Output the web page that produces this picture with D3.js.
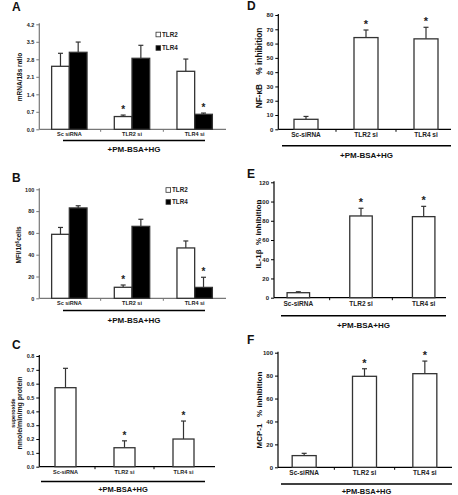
<!DOCTYPE html>
<html><head><meta charset="utf-8">
<script src="https://cdn.jsdelivr.net/npm/d3@7"></script>
<style>body{margin:0;background:#fff}svg{display:block}text{font-family:"Liberation Sans",Arial,sans-serif;font-weight:bold}</style>
</head><body><svg id="c" width="458" height="495"></svg>
<script>
// ---- data ----
const catsAB = ["Sc siRNA", "TLR2 si", "TLR4 si"];
const catsCF = ["Sc-siRNA", "TLR2 si", "TLR4 si"];
const seriesNames = ["TLR2", "TLR4"];
const aTLR2 = [2.52, 0.51, 2.32], aTLR2err = [0.52, 0.06, 0.49];
const aTLR4 = [3.08, 2.84, 0.60], aTLR4err = [0.41, 0.52, 0.05];
const bTLR2 = [58.7, 10.1, 46.2], bTLR2err = [6.3, 2.1, 6.4];
const bTLR4 = [82.9, 66.0, 10.0], bTLR4err = [2.0, 6.5, 9.3];
const cVals = [0.571, 0.137, 0.200], cErr = [0.14, 0.05, 0.13];
const dVals = [7.0, 64.2, 63.3], dErr = [2.0, 5.3, 8.1];
const eVals = [5.2, 85.0, 84.3], eErr = [1.0, 8.0, 10.7];
const fVals = [10.2, 79.4, 81.7], fErr = [2.0, 6.6, 11.0];
const starsA = [[false, true, false], [false, false, true]];
const starsSingle = [false, true, true];
const ticksA = [0, 0.7, 1.4, 2.1, 2.8, 3.5, 4.2];
const ticksB = [0, 20, 40, 60, 80, 100];
const ticksC = [0, 0.1, 0.2, 0.3, 0.4, 0.5, 0.6, 0.7, 0.8];
const ticksD = [0, 10, 20, 30, 40, 50, 60, 70, 80];
const ticksE = [0, 20, 40, 60, 80, 100, 120];
const ticksF = [0, 20, 40, 60, 80, 100];
const groupLabel = "+PM-BSA+HG";

const svg = d3.select("#c");

function panel(o) {
  const g = svg.append("g");
  const y = d3.scaleLinear().domain([0, o.ymax]).range([o.y0, o.y1]);
  const x = d3.scaleBand().domain(o.cats).range([o.bx0, o.bx1]);
  const axisCol = o.axisCol || "#000";
  // y axis
  const ya = g.append("g").attr("transform", `translate(${o.ax},0)`)
    .call(d3.axisLeft(y).tickValues(o.ticks).tickFormat(o.fmt).tickSize(3).tickSizeOuter(0));
  ya.select(".domain").attr("stroke", axisCol).attr("stroke-width", 1.2).attr("d", `M0,${o.y0}V${o.y1 - 1}`);
  ya.selectAll(".tick line").attr("stroke", axisCol).attr("stroke-width", 1);
  ya.selectAll(".tick text").attr("font-size", o.tfs).attr("fill", "#222").attr("x", -5).attr("font-family", "Liberation Sans").attr("font-weight", "bold");
  // x axis
  const xa = g.append("g").attr("transform", `translate(0,${o.y0})`)
    .call(d3.axisBottom(x).tickSize(0));
  xa.select(".domain").attr("stroke", axisCol).attr("stroke-width", 1.2).attr("d", `M${o.ax},0H${o.axEnd}`);
  xa.selectAll(".tick text").attr("font-size", o.cfs).attr("fill", "#222").attr("y", o.cy).attr("dy", 0).attr("font-family", "Liberation Sans").attr("font-weight", "bold");
  // boundary ticks
  g.append("g").selectAll("line").data(o.cats.slice(1)).join("line")
    .attr("x1", d => x(d)).attr("x2", d => x(d))
    .attr("y1", o.y0).attr("y2", o.y0 + 2.5).attr("stroke", axisCol).attr("stroke-width", 1);
  // bars
  const nS = o.series.length;
  const bw = o.bw;
  o.series.forEach((s, si) => {
    const off = (si - nS / 2) * bw;
    const items = o.cats.map((c, i) => ({ c, v: s.vals[i], e: s.err[i], star: s.stars[i] }));
    const bx = d => x(d.c) + x.bandwidth() / 2 + off;
    const sg = g.append("g");
    sg.selectAll("line.e").data(items).join("line").attr("class", "e")
      .attr("x1", d => bx(d) + bw / 2).attr("x2", d => bx(d) + bw / 2)
      .attr("y1", d => y(d.v)).attr("y2", d => y(d.v + d.e))
      .attr("stroke", "#333").attr("stroke-width", 1.2);
    sg.selectAll("line.c").data(items).join("line").attr("class", "c")
      .attr("x1", d => bx(d) + bw / 2 - 2.5).attr("x2", d => bx(d) + bw / 2 + 2.5)
      .attr("y1", d => y(d.v + d.e)).attr("y2", d => y(d.v + d.e))
      .attr("stroke", "#333").attr("stroke-width", 1.2);
    sg.selectAll("rect").data(items).join("rect")
      .attr("x", d => bx(d)).attr("width", bw)
      .attr("y", d => y(d.v)).attr("height", d => y(0) - y(d.v))
      .attr("fill", s.fill).attr("stroke", "#333").attr("stroke-width", 1.3);
    sg.selectAll("text").data(items.filter(d => d.star)).join("text")
      .attr("x", d => bx(d) + bw / 2).attr("y", d => y(d.v + d.e) - 2)
      .attr("text-anchor", "middle").attr("font-size", o.sfs).attr("fill", "#222").text("*");
  });
  // underline + group label
  g.append("line").attr("x1", o.ulx0).attr("x2", o.ulx1).attr("y1", o.uly).attr("y2", o.uly)
    .attr("stroke", "#000").attr("stroke-width", 1.6);
  g.append("text").attr("x", (o.ulx0 + o.ulx1) / 2).attr("y", o.gly).attr("text-anchor", "middle")
    .attr("font-size", o.gfs).attr("fill", "#111").text(groupLabel);
  // title letter
  g.append("text").attr("x", o.tx).attr("y", o.ty).attr("font-size", 12).attr("fill", "#111").text(o.title);
  // y label(s)
  o.ylabels.forEach(l => {
    const t = g.append("text").attr("transform", `translate(${l.x},${l.y}) rotate(-90)`)
      .attr("text-anchor", "middle").attr("font-size", l.fs).attr("fill", "#111");
    if (l.parts) l.parts.forEach(p => t.append("tspan").attr("baseline-shift", p.sup ? "super" : null).attr("font-size", p.sup ? l.fs * 0.7 : null).text(p.t));
    else t.text(l.t);
  });
  // legend
  if (o.legend) {
    o.series.forEach((s, i) => {
      g.append("rect").attr("x", o.legend.x).attr("y", o.legend.y + i * o.legend.dy - 2.3).attr("width", 4.6).attr("height", 4.6)
        .attr("fill", s.fill).attr("stroke", "#333").attr("stroke-width", 0.8);
      g.append("text").attr("x", o.legend.x + 6).attr("y", o.legend.y + i * o.legend.dy + 2.4)
        .attr("font-size", 6.3).attr("fill", "#222").text(s.name);
    });
  }
}

const f1 = d => d3.format(".1f")(d);
const f0 = d => String(d);
const sp = "\u00a0";

panel({ title: "A", tx: 12, ty: 11, cats: catsAB, ymax: 4.2, y0: 129.3, y1: 24.3, ticks: ticksA, fmt: f1,
  ax: 39.3, axEnd: 226, bx0: 38, bx1: 226, bw: 17.7, axisCol: "#777", tfs: 5.5, cfs: 5.5, cy: 7, sfs: 10, gfs: 8,
  ulx0: 63, ulx1: 205, uly: 140.5, gly: 152,
  series: [{ name: seriesNames[0], vals: aTLR2, err: aTLR2err, fill: "#fff", stars: starsA[0] },
           { name: seriesNames[1], vals: aTLR4, err: aTLR4err, fill: "#000", stars: starsA[1] }],
  legend: { x: 156, y: 34.5, dy: 13.5 },
  ylabels: [{ x: 22, y: 77, fs: 6.5, t: "mRNA/18s ratio" }] });

panel({ title: "B", tx: 12, ty: 182, cats: catsAB, ymax: 100, y0: 298.3, y1: 189.3, ticks: ticksB, fmt: f0,
  ax: 39.3, axEnd: 226, bx0: 38, bx1: 226, bw: 17.7, axisCol: "#777", tfs: 5.5, cfs: 5.5, cy: 7, sfs: 10, gfs: 8,
  ulx0: 63, ulx1: 205, uly: 310.5, gly: 323,
  series: [{ name: seriesNames[0], vals: bTLR2, err: bTLR2err, fill: "#fff", stars: starsA[0] },
           { name: seriesNames[1], vals: bTLR4, err: bTLR4err, fill: "#000", stars: starsA[1] }],
  legend: { x: 166, y: 190, dy: 12 },
  ylabels: [{ x: 21, y: 245, fs: 6.5, parts: [{ t: "MFI/10" }, { t: "6", sup: true }, { t: "cells" }] }] });

panel({ title: "C", tx: 12, ty: 349, cats: catsCF, ymax: 0.8, y0: 466.7, y1: 356, ticks: ticksC, fmt: f1,
  ax: 39.3, axEnd: 215, bx0: 36, bx1: 213, bw: 21, tfs: 5.5, cfs: 5.5, cy: 7, sfs: 10, gfs: 7.5,
  ulx0: 41, ulx1: 205, uly: 481.5, gly: 492,
  series: [{ name: "", vals: cVals, err: cErr, fill: "#fff", stars: starsSingle }],
  ylabels: [{ x: 15, y: 413, fs: 5.5, t: "superoxide" }, { x: 21.5, y: 413, fs: 7, t: "nmole/min/mg protein" }] });

panel({ title: "D", tx: 247, ty: 10, cats: catsCF, ymax: 80, y0: 129.3, y1: 15, ticks: ticksD, fmt: f0,
  ax: 278.3, axEnd: 451, bx0: 276, bx1: 456, bw: 24, tfs: 6, cfs: 6.5, cy: 8, sfs: 11, gfs: 8,
  ulx0: 282, ulx1: 451, uly: 145.7, gly: 158,
  series: [{ name: "", vals: dVals, err: dErr, fill: "#fff", stars: starsSingle }],
  ylabels: [{ x: 262, y: 68, fs: 8.3, t: "NF-\u03baB" + sp.repeat(4) + "% inhibition" }] });

panel({ title: "E", tx: 247, ty: 178, cats: catsCF, ymax: 120, y0: 297.7, y1: 182.3, ticks: ticksE, fmt: f0,
  ax: 274, axEnd: 446, bx0: 267, bx1: 455, bw: 22.5, tfs: 6, cfs: 6.5, cy: 8, sfs: 11, gfs: 8,
  ulx0: 281, ulx1: 446, uly: 315.7, gly: 328,
  series: [{ name: "", vals: eVals, err: eErr, fill: "#fff", stars: starsSingle }],
  ylabels: [{ x: 261, y: 234, fs: 8, t: "IL-1\u03b2" + sp.repeat(2) + "% inhibition" }] });

panel({ title: "F", tx: 247, ty: 344, cats: catsCF, ymax: 100, y0: 467.3, y1: 352.7, ticks: ticksF, fmt: f0,
  ax: 278, axEnd: 452, bx0: 274, bx1: 455, bw: 24, tfs: 6, cfs: 6.5, cy: 8, sfs: 11, gfs: 7.5,
  ulx0: 281, ulx1: 452, uly: 484, gly: 493.5,
  series: [{ name: "", vals: fVals, err: fErr, fill: "#fff", stars: starsSingle }],
  ylabels: [{ x: 262, y: 410, fs: 8, t: "MCP-1" + sp.repeat(3) + "% inhibition" }] });
</script></body></html>
